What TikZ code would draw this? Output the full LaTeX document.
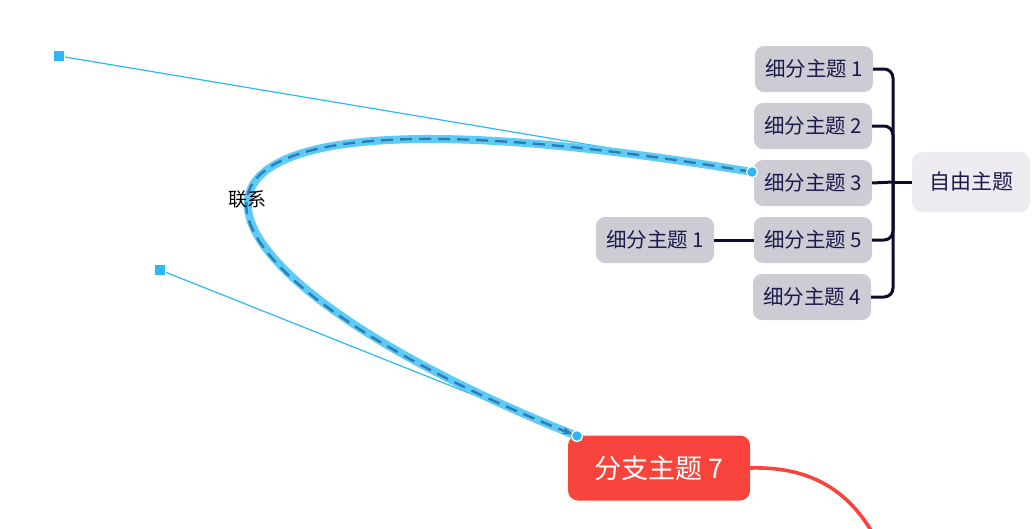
\documentclass[tikz,border=0pt]{standalone}
\usepackage{fontspec}
\setmainfont{Noto Sans CJK SC}
\usepackage{tikz}
\usetikzlibrary{positioning, arrows.meta, calc}
\definecolor{subfill}{HTML}{CDCCD5}
\definecolor{rootfill}{HTML}{EDEBEF}
\definecolor{inkblue}{HTML}{1B1A4A}
\definecolor{treeline}{HTML}{0D0D2B}
\definecolor{branchred}{HTML}{F8443C}
\definecolor{relwide}{HTML}{5ECBF7}
\definecolor{reldash}{HTML}{2C7DB4}
\definecolor{handle}{HTML}{2DB8F4}
\tikzset{
  sub/.style={rectangle, rounded corners=9pt, fill=subfill, minimum width=118pt, minimum height=46pt, font=\fontsize{20.5}{22}\selectfont, text=inkblue, inner sep=0pt},
  root/.style={rectangle, rounded corners=10pt, fill=rootfill, minimum width=118pt, minimum height=60pt, font=\fontsize{21}{24}\selectfont, text=inkblue, inner sep=0pt},
  branch/.style={rectangle, rounded corners=10pt, fill=branchred, minimum width=182pt, minimum height=65pt, font=\fontsize{27}{30}\selectfont, text=white, inner sep=0pt},
  tree/.style={draw=treeline, line width=3pt, rounded corners=9pt},
  handlebox/.style={rectangle, fill=handle, draw=white, line width=1.2pt, minimum size=11pt, inner sep=0pt},
  endpoint/.style={circle, fill=handle, draw=white, line width=1.2pt, minimum size=11pt, inner sep=0pt}
}
\begin{document}
\begin{tikzpicture}[x=1pt, y=-1pt]
  \useasboundingbox (0,0) rectangle (1035,528);
  % Topics
  \node[root] (root) at (971,182) {自由主题};
  \node[sub] (sub1) at (814,69) {细分主题 1};
  \node[sub] (sub2) at (813,126) {细分主题 2};
  \node[sub] (sub3) at (813,183) {细分主题 3};
  \node[sub] (sub5) at (813,240) {细分主题 5};
  \node[sub] (sub4) at (812,297) {细分主题 4};
  \node[sub] (sub51) at (655,240) {细分主题 1};
  \node[branch] (branch7) at (659,468) {分支主题 7};
  \coordinate (hub) at (893,182);
  \coordinate (redend) at (872,532);

  % Tree connectors
  \draw[tree] (root.west) -- (hub);
  \draw[tree] (sub1.east) -| (hub);
  \draw[tree] (sub2.east) -| (hub);
  \draw[tree] (sub3.east) -- (hub);
  \draw[tree] (sub5.east) -| (hub);
  \draw[tree] (sub4.east) -| (hub);
  \draw[tree] (sub5.west) -- (sub51.east);

  % Branch line
  \draw[branchred, line width=3.6pt] (branch7.east) .. controls (815,466) and (850,495) .. (redend);

  % Relation handles
  \node[endpoint] (relstart) at (752,172) {};
  \node[endpoint] (relend) at (577,436) {};
  \node[handlebox] (ctrla) at (59,56) {};
  \node[handlebox] (ctrlb) at (160,270) {};
  \draw[handle, line width=1.2pt] (ctrla) -- (relstart.center);
  \draw[handle, line width=1.2pt] (ctrlb) -- (relend.center);

  % Relation curve
  \draw[relwide, line width=8pt, line cap=round] (relstart.center) .. controls (ctrla.center) and (ctrlb.center) .. (relend.center);
  \draw[reldash, line width=2.4pt, dash pattern=on 12pt off 7pt, shorten >=5pt, -{Stealth[length=10pt, width=8pt]}] (relstart.center) .. controls (ctrla.center) and (ctrlb.center) .. (relend.center);
  \node[endpoint] at (relstart) {};
  \node[endpoint] at (relend) {};
  \node[font=\fontsize{19}{21}\selectfont, text=black] (rellabel) at (247,199) {联系};
\end{tikzpicture}
\end{document}
